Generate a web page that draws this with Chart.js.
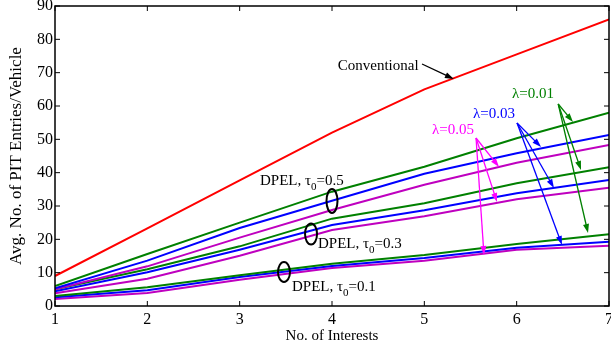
<!DOCTYPE html>
<html lang="en">
<head>
  <meta charset="UTF-8">
  <title>Avg. No. of PIT Entries/Vehicle</title>
  <script src="https://cdn.jsdelivr.net/npm/chart.js"></script>
  <style>
    html, body {
      margin: 0;
      padding: 0;
      background: #fff;
    }

    .wrap {
      position: relative;
      width: 611px;
      height: 349px;
    }
  </style>
</head>
<body>
  <div class="wrap">
    <canvas id="pitChart"></canvas>
  </div>

  <script>
    // data
    const interests = [1, 2, 3, 4, 5, 6, 7];
    const xTicks = [1, 2, 3, 4, 5, 6, 7];
    const yTicks = [0, 10, 20, 30, 40, 50, 60, 70, 80, 90];

    const conventional = [9, 23.3, 37.7, 52, 65, 75.5, 86];

    // DPEL, tau0 = 0.5
    const t05_l001 = [6, 15.6, 25, 34.3, 41.8, 50.3, 58];
    const t05_l003 = [5.3, 13.6, 23.4, 31.6, 39.7, 45.8, 51.3];
    const t05_l005 = [5, 11.9, 20.5, 28.8, 36.4, 43, 48.3];

    // DPEL, tau0 = 0.3
    const t03_l001 = [5, 11, 17.9, 26.2, 30.8, 36.8, 41.6];
    const t03_l003 = [4.4, 10.1, 16.9, 24.3, 28.7, 33.8, 37.8];
    const t03_l005 = [3.8, 8.2, 15.1, 22.8, 26.9, 32, 35.5];

    // DPEL, tau0 = 0.1
    const t01_l001 = [3, 5.6, 9.2, 12.7, 15.3, 18.6, 21.5];
    const t01_l003 = [2.6, 4.7, 8.7, 12, 14.4, 17.5, 19.3];
    const t01_l005 = [2.1, 3.9, 7.9, 11.4, 13.6, 16.9, 18.1];

    const RED = '#ff0000';
    const GREEN = '#008000';
    const BLUE = '#0000ff';
    const PURPLE = '#bf00bf';
    const MAGENTA = '#ff00ff';
    const FONT = '"Liberation Serif", "Times New Roman", serif';

    function series(label, values, color) {
      return {
        label: label,
        data: values.map((v, i) => ({ x: interests[i], y: v })),
        borderColor: color,
        backgroundColor: color,
        borderWidth: 2,
        pointRadius: 0,
        tension: 0,
        fill: false
      };
    }

    // annotations, positions in data units
    const notes = {
      conventional: { text: 'Conventional', x: 4.5, y: 72, tail: [4.975, 72.6], head: [5.32, 68.1] },
      lambdas: [
        { text: '\u03bb=0.01', color: GREEN, x: 6.177, y: 63.6, tail: [6.45, 60.6],
          heads: [[6.61, 55.2], [6.697, 40.8], [6.773, 21.9]] },
        { text: '\u03bb=0.03', color: BLUE, x: 5.755, y: 57.6, tail: [6.004, 54.9],
          heads: [[6.264, 47.7], [6.404, 35.4], [6.491, 18.3]] },
        { text: '\u03bb=0.05', color: MAGENTA, x: 5.311, y: 52.8, tail: [5.56, 50.4],
          heads: [[5.809, 41.7], [5.787, 31.2], [5.646, 15.3]] }
      ],
      dpel: [
        { tau: '0.5', x: 3.22, y: 37.5, ex: 4.0, ey: 31.5, rx: 5.5, ry: 12 },
        { tau: '0.3', x: 3.848, y: 18.6, ex: 3.773, ey: 21.6, rx: 6, ry: 10.5 },
        { tau: '0.1', x: 3.567, y: 5.7, ex: 3.48, ey: 10.2, rx: 6, ry: 10 }
      ]
    };

    function arrow(ctx, x1, y1, x2, y2, color) {
      const ang = Math.atan2(y2 - y1, x2 - x1);
      const len = 9, half = 3;
      ctx.strokeStyle = color;
      ctx.fillStyle = color;
      ctx.lineWidth = 1.3;
      ctx.beginPath();
      ctx.moveTo(x1, y1);
      ctx.lineTo(x2 - Math.cos(ang) * len * 0.8, y2 - Math.sin(ang) * len * 0.8);
      ctx.stroke();
      ctx.beginPath();
      ctx.moveTo(x2, y2);
      ctx.lineTo(x2 - Math.cos(ang) * len - Math.sin(ang) * half, y2 - Math.sin(ang) * len + Math.cos(ang) * half);
      ctx.lineTo(x2 - Math.cos(ang) * len + Math.sin(ang) * half, y2 - Math.sin(ang) * len - Math.cos(ang) * half);
      ctx.closePath();
      ctx.fill();
    }

    // frame with inward ticks (matlab style)
    const framePlugin = {
      id: 'frame',
      afterDraw(chart) {
        const ctx = chart.ctx;
        const a = chart.chartArea;
        const xs = chart.scales.x, ys = chart.scales.y;
        ctx.save();
        ctx.strokeStyle = '#000';
        ctx.lineWidth = 1.5;
        ctx.strokeRect(a.left, a.top, a.right - a.left, a.bottom - a.top);
        ctx.lineWidth = 1;
        ctx.beginPath();
        xTicks.forEach(t => {
          const p = xs.getPixelForValue(t);
          ctx.moveTo(p, a.bottom); ctx.lineTo(p, a.bottom - 5);
          ctx.moveTo(p, a.top); ctx.lineTo(p, a.top + 5);
        });
        yTicks.forEach(t => {
          const p = ys.getPixelForValue(t);
          ctx.moveTo(a.left, p); ctx.lineTo(a.left + 5, p);
          ctx.moveTo(a.right, p); ctx.lineTo(a.right - 5, p);
        });
        ctx.stroke();
        ctx.restore();
      }
    };

    const notesPlugin = {
      id: 'notes',
      afterDatasetsDraw(chart) {
        const ctx = chart.ctx;
        const xs = chart.scales.x, ys = chart.scales.y;
        const px = v => xs.getPixelForValue(v);
        const py = v => ys.getPixelForValue(v);
        ctx.save();
        ctx.textBaseline = 'middle';

        // Conventional
        const c = notes.conventional;
        ctx.font = '15px ' + FONT;
        ctx.fillStyle = '#000';
        ctx.textAlign = 'center';
        ctx.fillText(c.text, px(c.x), py(c.y));
        arrow(ctx, px(c.tail[0]), py(c.tail[1]), px(c.head[0]), py(c.head[1]), '#000');

        // lambda labels
        notes.lambdas.forEach(n => {
          ctx.font = '15px ' + FONT;
          ctx.fillStyle = n.color;
          ctx.textAlign = 'center';
          ctx.fillText(n.text, px(n.x), py(n.y));
          n.heads.forEach(h => arrow(ctx, px(n.tail[0]), py(n.tail[1]), px(h[0]), py(h[1]), n.color));
        });

        // DPEL labels with ellipses
        notes.dpel.forEach(d => {
          let x = px(d.x);
          const y = py(d.y);
          ctx.fillStyle = '#000';
          ctx.textAlign = 'left';
          ctx.font = '15px ' + FONT;
          const head = 'DPEL, \u03c4';
          ctx.fillText(head, x, y);
          x += ctx.measureText(head).width;
          ctx.font = '11px ' + FONT;
          ctx.fillText('0', x, y + 6);
          x += ctx.measureText('0').width;
          ctx.font = '15px ' + FONT;
          ctx.fillText('=' + d.tau, x, y);

          ctx.strokeStyle = '#000';
          ctx.lineWidth = 2;
          ctx.beginPath();
          ctx.ellipse(px(d.ex), py(d.ey), d.rx, d.ry, 0, 0, Math.PI * 2);
          ctx.stroke();
        });
        ctx.restore();
      }
    };

    new Chart(document.getElementById('pitChart'), {
      type: 'line',
      data: {
        datasets: [
          series('Conventional', conventional, RED),
          series('DPEL t0=0.5 l=0.01', t05_l001, GREEN),
          series('DPEL t0=0.5 l=0.03', t05_l003, BLUE),
          series('DPEL t0=0.5 l=0.05', t05_l005, PURPLE),
          series('DPEL t0=0.3 l=0.01', t03_l001, GREEN),
          series('DPEL t0=0.3 l=0.03', t03_l003, BLUE),
          series('DPEL t0=0.3 l=0.05', t03_l005, PURPLE),
          series('DPEL t0=0.1 l=0.01', t01_l001, GREEN),
          series('DPEL t0=0.1 l=0.03', t01_l003, BLUE),
          series('DPEL t0=0.1 l=0.05', t01_l005, PURPLE)
        ]
      },
      options: {
        responsive: true,
        maintainAspectRatio: false,
        animation: false,
        layout: { padding: { top: 6, right: 2, left: 0, bottom: 0 } },
        plugins: {
          legend: { display: false },
          tooltip: { enabled: false }
        },
        scales: {
          x: {
            type: 'linear',
            min: 1,
            max: 7,
            afterFit(scale) {
              scale.height = 43;
              scale.paddingLeft = 0;
              scale.paddingRight = 0;
            },
            afterBuildTicks(scale) { scale.ticks = xTicks.map(v => ({ value: v })); },
            grid: { display: false, drawTicks: false },
            border: { display: false },
            ticks: { color: '#000', font: { family: FONT, size: 16 }, padding: 4, maxRotation: 0 },
            title: {
              display: true,
              text: 'No. of Interests',
              color: '#000',
              font: { family: FONT, size: 15 },
              padding: { top: 0, bottom: 4 }
            }
          },
          y: {
            min: 0,
            max: 90,
            afterFit(scale) {
              scale.width = 55;
              scale.paddingTop = 0;
              scale.paddingBottom = 0;
            },
            afterBuildTicks(scale) { scale.ticks = yTicks.map(v => ({ value: v })); },
            grid: { display: false, drawTicks: false },
            border: { display: false },
            ticks: { color: '#000', font: { family: FONT, size: 16 }, padding: 2 },
            title: {
              display: true,
              text: 'Avg. No. of PIT Entries/Vehicle',
              color: '#000',
              font: { family: FONT, size: 17 },
              padding: { top: 6, bottom: 0 }
            }
          }
        }
      },
      plugins: [notesPlugin, framePlugin]
    });
  </script>
</body>
</html>
